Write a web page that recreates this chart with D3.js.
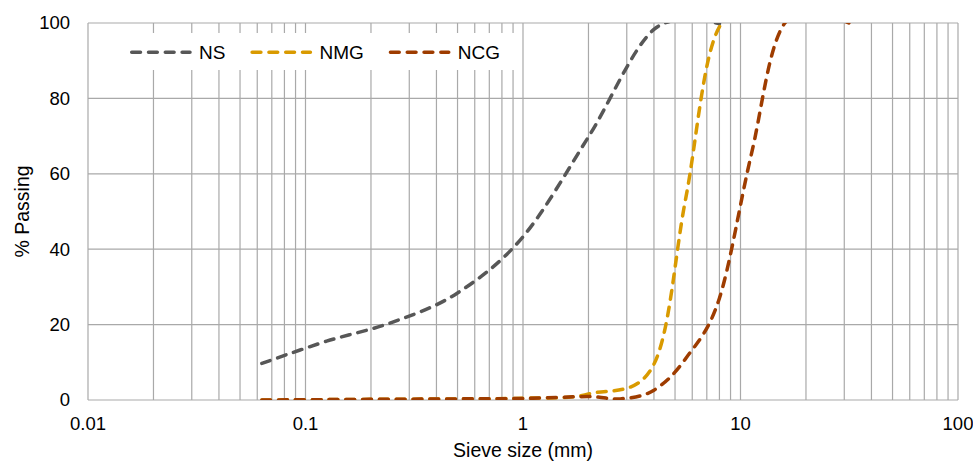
<html><head>
  <script src="https://d3js.org/d3.v7.min.js"></script>
  <style>
    body { margin: 0; background: #fff; }
    text { font-family: 'Liberation Sans', Arial, sans-serif; fill: #000; }
    .grid line { stroke: #a9a9a9; stroke-width: 1.2; }
  </style>
</head>
<body>
  <script>
    // sieve sizes (mm) and % passing for each material
    const nsSieve  = [0.063, 0.125, 0.25, 0.5, 1, 2, 4, 8]
    const nsPass   = [9.7, 15.6, 20.6, 28.4, 43.3, 69.8, 98.3, 99.8]
    const nmgSieve = [0.063, 0.125, 0.25, 0.5, 1, 2, 4, 5.6, 8, 16]
    const nmgPass  = [0, 0.1, 0.2, 0.3, 0.5, 1.6, 9.5, 53.5, 99, 100]
    const ncgSieve = [0.063, 0.125, 0.25, 0.5, 1, 2, 2.8, 4, 5.6, 8, 11.2, 16, 31.5]
    const ncgPass  = [0, 0.1, 0.2, 0.3, 0.4, 0.9, 0.3, 2.6, 11, 27, 65, 100, 100]

    const seriesNames = ["NS", "NMG", "NCG"]
    const seriesColors = ["#575757", "#d99a00", "#9e3c00"]
    const xTicks = [0.01, 0.1, 1, 10, 100]
    const yTicks = [0, 20, 40, 60, 80, 100]

    const series = [
      {name: seriesNames[0], color: seriesColors[0], pts: nsSieve.map((s, i) => ({s: s, p: nsPass[i]}))},
      {name: seriesNames[1], color: seriesColors[1], pts: nmgSieve.map((s, i) => ({s: s, p: nmgPass[i]}))},
      {name: seriesNames[2], color: seriesColors[2], pts: ncgSieve.map((s, i) => ({s: s, p: ncgPass[i]}))}
    ]

    const width = 973, height = 461
    const margin = {top: 23, right: 15, bottom: 61, left: 88}
    const chartWidth = width - margin.left - margin.right
    const chartHeight = height - margin.top - margin.bottom

    const svg = d3.select("body").append("svg")
                  .attr("width", width)
                  .attr("height", height)

    const xScale = d3.scaleLog().domain([0.01, 100]).range([margin.left, margin.left + chartWidth])
    const yScale = d3.scaleLinear().domain([0, 100]).range([margin.top + chartHeight, margin.top])

    // gridlines: every 1..9 of each decade, plus horizontal every 20
    const minorTicks = []
    for (let d = 0.01; d < 100; d *= 10) {
      for (let k = 1; k < 10; k++) minorTicks.push(d * k)
    }
    minorTicks.push(100)

    const grid = svg.append("g").attr("class", "grid")
    grid.selectAll("line.v").data(minorTicks).join("line")
        .attr("class", "v")
        .attr("x1", d => xScale(d)).attr("x2", d => xScale(d))
        .attr("y1", yScale(100)).attr("y2", yScale(0))
    grid.selectAll("line.h").data(yTicks).join("line")
        .attr("class", "h")
        .attr("x1", xScale(0.01)).attr("x2", xScale(100))
        .attr("y1", d => yScale(d)).attr("y2", d => yScale(d))

    // clip series to plot area
    svg.append("clipPath").attr("id", "plotClip")
       .append("rect")
       .attr("x", xScale(0.01)).attr("y", yScale(100))
       .attr("width", chartWidth).attr("height", chartHeight)

    const line = d3.line()
                   .x(d => xScale(d.s))
                   .y(d => yScale(d.p))
                   .curve(d3.curveCardinal.tension(0))

    svg.append("g").attr("clip-path", "url(#plotClip)")
       .selectAll("path").data(series).join("path")
       .attr("d", d => line(d.pts))
       .attr("fill", "none")
       .attr("stroke", d => d.color)
       .attr("stroke-width", 3.5)
       .attr("stroke-linecap", "round")
       .attr("stroke-dasharray", "8.8 8")

    // axis tick labels
    svg.append("g").selectAll("text").data(xTicks).join("text")
       .attr("x", d => xScale(d))
       .attr("y", 429.5)
       .attr("text-anchor", "middle")
       .style("font-size", "18.5px")
       .text(d => d3.format("~g")(d))

    svg.append("g").selectAll("text").data(yTicks).join("text")
       .attr("x", 70)
       .attr("y", d => yScale(d))
       .attr("dy", "0.35em")
       .attr("text-anchor", "end")
       .style("font-size", "18.5px")
       .text(d => d)

    // axis titles
    svg.append("text")
       .attr("x", xScale(0.01) + chartWidth / 2)
       .attr("y", 457)
       .attr("text-anchor", "middle")
       .style("font-size", "19.5px")
       .text("Sieve size (mm)")

    svg.append("text")
       .attr("transform", `translate(29,${yScale(50)}) rotate(-90)`)
       .attr("text-anchor", "middle")
       .style("font-size", "19.5px")
       .text("% Passing")

    // legend
    const legend = svg.append("g")
    legend.append("rect")
          .attr("x", 100).attr("y", 33)
          .attr("width", 418).attr("height", 37)
          .attr("fill", "#fff")

    let lx = 130
    const ly = 52.3
    series.forEach(s => {
      legend.append("line")
            .attr("x1", lx + 1.7).attr("x2", lx + 60)
            .attr("y1", ly).attr("y2", ly)
            .attr("stroke", s.color)
            .attr("stroke-width", 3.5)
            .attr("stroke-linecap", "round")
            .attr("stroke-dasharray", "8.8 8")
      const t = legend.append("text")
            .attr("x", lx + 69).attr("y", ly)
            .attr("dy", "0.35em")
            .style("font-size", "19px")
            .text(s.name)
      lx = lx + 69 + t.node().getComputedTextLength() + 25
    })
  </script>
</body></html>
